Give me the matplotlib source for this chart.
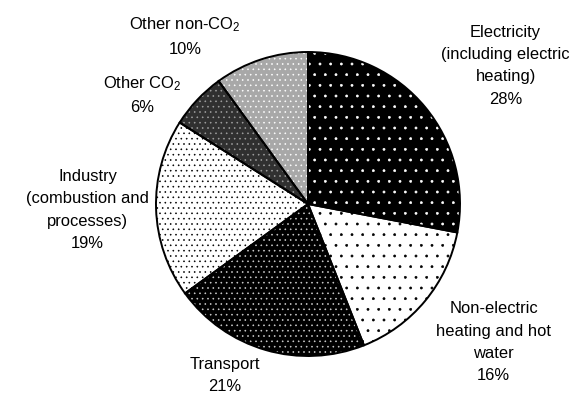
import matplotlib
matplotlib.use("Agg")
import matplotlib.pyplot as plt

plt.rcParams['font.family'] = ['Liberation Sans', 'DejaVu Sans']
plt.rcParams['mathtext.fontset'] = 'custom'
plt.rcParams['mathtext.rm'] = 'Liberation Sans'
plt.rcParams['hatch.linewidth'] = 0.7

# ---- data ----
categories = ["Electricity\n(including electric\nheating)",
              "Non-electric\nheating and hot\nwater",
              "Transport",
              "Industry\n(combustion and\nprocesses)",
              "Other CO$_\\mathregular{2}$",
              "Other non-CO$_\\mathregular{2}$"]
shares = [28, 16, 21, 19, 6, 10]

# ---- styles (layout) ----
face_colors = ["#000000", "#ffffff", "#000000", "#ffffff", "#303030", "#a8a8a8"]
hatch_colors = ["#ffffff", "#000000", "#d0d0d0", "#000000", "#a0a0a0", "#ffffff"]
hatches = [".", ".", "..", "..", "..", ".."]
label_pos = [(1.30, 0.91), (1.22, -0.91), (-0.55, -1.13),
             (-1.45, -0.04), (-1.09, 0.72), (-0.81, 1.105)]

DPI = 64
fig = plt.figure(figsize=(581 / DPI, 394 / DPI), dpi=DPI)
ax = fig.add_axes([(308 - 152) / 581, 38 / 394, 304 / 581, 304 / 394])

common = dict(startangle=90, counterclock=False, radius=1)
w1, _ = ax.pie(shares, colors=face_colors,
               wedgeprops=dict(linewidth=0), **common)
w2, _ = ax.pie(shares, wedgeprops=dict(linewidth=0, fill=False), **common)
for w, h, hc in zip(w2, hatches, hatch_colors):
    w.set_hatch(h)
    w.set_edgecolor(hc)
w3, _ = ax.pie(shares, wedgeprops=dict(linewidth=2.2, edgecolor="black",
                                         fill=False), **common)

for cat, val, (x, y) in zip(categories, shares, label_pos):
    ax.text(x, y, f"{cat}\n{val}%", ha="center", va="center",
            multialignment="center", fontsize=18.5, linespacing=1.62,
            color="black")

ax.set_xlim(-1, 1)
ax.set_ylim(-1, 1)
ax.set_aspect("auto")
ax.axis("off")

fig.savefig("out.png", dpi=DPI)
